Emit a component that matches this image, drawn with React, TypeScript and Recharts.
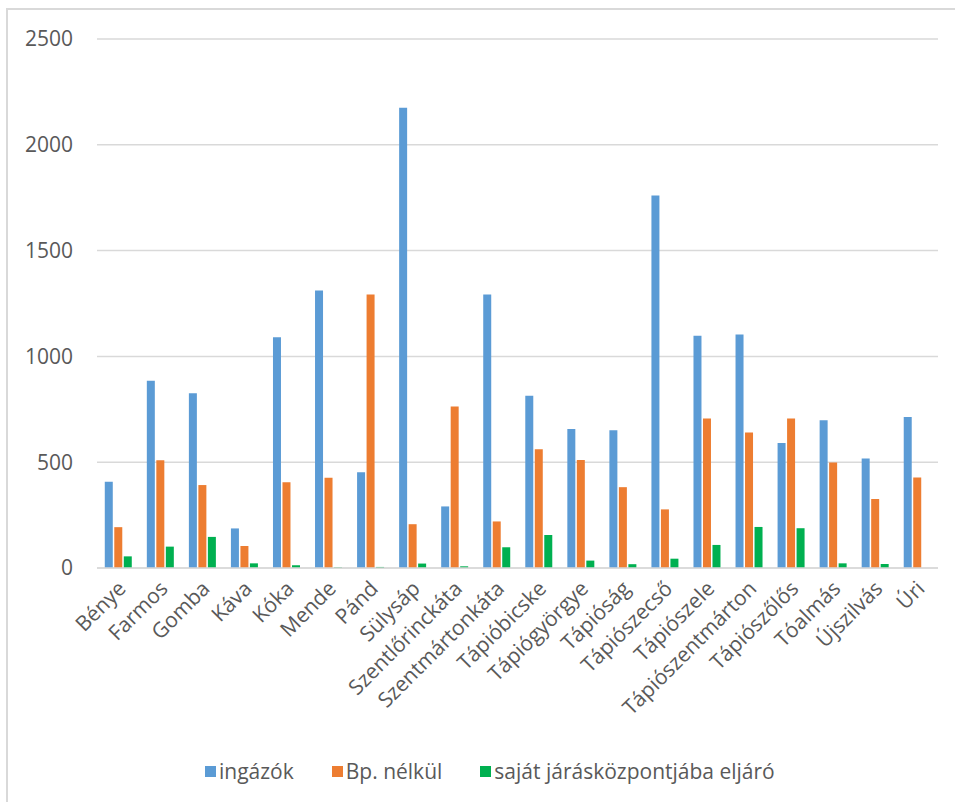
import React from "react";
import { BarChart, Bar, XAxis, YAxis, CartesianGrid, Legend } from "recharts";

const categories = [
  "Bénye", "Farmos", "Gomba", "Káva", "Kóka", "Mende", "Pánd", "Sülysáp",
  "Szentlőrinckáta", "Szentmártonkáta", "Tápióbicske", "Tápiógyörgye", "Tápióság",
  "Tápiószecső", "Tápiószele", "Tápiószentmárton", "Tápiószőlős", "Tóalmás",
  "Újszilvás", "Úri",
];
const ingazok = [408, 885, 826, 187, 1090, 1311, 453, 2175, 291, 1292, 814, 657, 651, 1760, 1098, 1104, 591, 698, 518, 714];
const bpNelkul = [193, 509, 392, 104, 405, 427, 1292, 207, 763, 220, 561, 510, 382, 277, 706, 640, 706, 498, 326, 428];
const sajat = [55, 101, 147, 22, 13, 3, 5, 21, 8, 98, 156, 35, 18, 44, 109, 194, 188, 22, 19, 0];
const yTicks = [0, 500, 1000, 1500, 2000, 2500];

const seriesNames = ["ingázók", "Bp. nélkül", "saját járásközpontjába eljáró"];
const seriesColors = ["#5B9BD5", "#ED7D31", "#00B050"];

const data = categories.map((c, i) => ({
  name: c,
  a: ingazok[i],
  b: bpNelkul[i],
  c: sajat[i],
}));

const FONT = "'Open Sans', 'Noto Sans', sans-serif";
const TEXT = "#595959";
const FS = 21;

const XTick = (props: any) => {
  const { x, y, payload } = props;
  return (
    <g transform={`translate(${x + 9},${y + 14})`}>
      <text
        x={0}
        y={0}
        textAnchor="end"
        transform="rotate(-45)"
        fill={TEXT}
        fontSize={FS}
        fontFamily={FONT}
      >
        {payload.value}
      </text>
    </g>
  );
};

const LegendContent = (props: any) => {
  const payload = [...(props.payload || [])].sort(
    (p: any, q: any) => seriesNames.indexOf(p.value) - seriesNames.indexOf(q.value)
  );
  return (
    <div
      style={{
        display: "flex",
        alignItems: "center",
        paddingLeft: 205,
        height: 30,
        fontFamily: FONT,
        fontSize: FS,
        color: TEXT,
      }}
    >
      {payload.map((p: any, i: number) => (
        <div key={i} style={{ display: "flex", alignItems: "center", marginRight: 38 }}>
          <span style={{ display: "inline-block", width: 11, height: 11, background: p.color, marginRight: 3 }} />
          <span style={{ lineHeight: "30px" }}>{p.value}</span>
        </div>
      ))}
    </div>
  );
};

export default function App() {
  return (
    <div style={{ position: "absolute", left: 0, top: 0, width: 955, height: 802, background: "#fff" }}>
      <div
        style={{
          position: "absolute",
          left: 6,
          top: 8,
          width: 949,
          height: 794,
          borderLeft: "2px solid #d9d9d9",
          borderTop: "2px solid #d9d9d9",
          boxSizing: "border-box",
        }}
      />
      <div style={{ position: "absolute", left: 0, top: 0 }}>
        <BarChart
          width={955}
          height={802}
          data={data}
          margin={{ top: 39, right: 17, bottom: 16, left: 0 }}
          barCategoryGap="18.5%"
          barGap={1.5}
        >
          <CartesianGrid vertical={false} stroke="#d9d9d9" strokeWidth={1.5} />
          <XAxis
            dataKey="name"
            interval={0}
            height={188}
            tick={<XTick />}
            tickLine={false}
            axisLine={{ stroke: "#d9d9d9", strokeWidth: 1.5 }}
          />
          <YAxis
            domain={[0, 2500]}
            ticks={yTicks}
            width={97}
            tickLine={false}
            axisLine={false}
            tickMargin={18}
            tick={{ fill: TEXT, fontSize: FS, fontFamily: FONT }}
          />
          <Legend
            verticalAlign="bottom"
            content={<LegendContent />}
            wrapperStyle={{ left: 0, width: 955, top: 756, height: 30 }}
          />
          <Bar dataKey="a" name={seriesNames[0]} fill={seriesColors[0]} isAnimationActive={false} />
          <Bar dataKey="b" name={seriesNames[1]} fill={seriesColors[1]} isAnimationActive={false} />
          <Bar dataKey="c" name={seriesNames[2]} fill={seriesColors[2]} isAnimationActive={false} />
        </BarChart>
      </div>
    </div>
  );
}
